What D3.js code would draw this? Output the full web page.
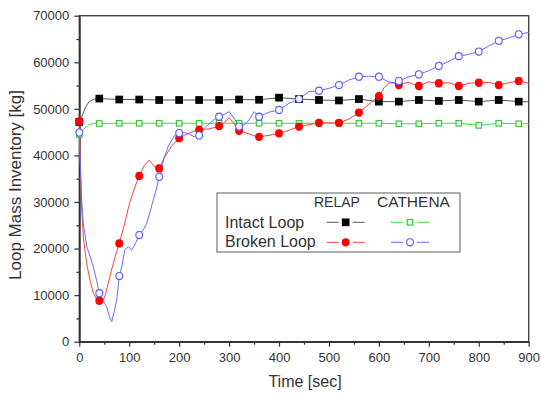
<!DOCTYPE html>
<html>
<head>
<meta charset="utf-8">
<script src="https://cdn.jsdelivr.net/npm/d3@7"></script>
<style>
  html, body { margin: 0; padding: 0; background: #fff; }
  svg { display: block; }
  text { font-family: "Liberation Sans", Arial, sans-serif; fill: #333; }
</style>
</head>
<body>
<svg id="chart" width="541" height="397"></svg>
<script>
// Loop mass inventory vs time, RELAP and CATHENA predictions
const xTicks = [0, 100, 200, 300, 400, 500, 600, 700, 800, 900];
const yTicks = [0, 10000, 20000, 30000, 40000, 50000, 60000, 70000];

// RELAP, intact loop
const relapIntactT = [0, 5, 10, 15, 20, 30, 40, 80, 120, 160, 200, 240, 280, 320, 360, 400, 440, 480, 520, 560, 600, 640, 680, 720, 760, 800, 840, 880, 900];
const relapIntactV = [47200, 48300, 49700, 50800, 51600, 52100, 52200, 52000, 52000, 51900, 51900, 51900, 51900, 52000, 51950, 52400, 52100, 51900, 51800, 52100, 51550, 51550, 51900, 51700, 51900, 51550, 51900, 51550, 51500];

// CATHENA, intact loop
const cathIntactT = [0, 10, 20, 30, 40, 80, 120, 160, 200, 240, 280, 320, 360, 400, 440, 480, 520, 560, 600, 640, 680, 720, 760, 800, 840, 880, 900];
const cathIntactV = [44500, 45800, 46600, 46900, 46850, 46900, 46900, 46900, 46900, 46900, 46900, 46900, 46900, 46900, 46900, 46900, 46900, 46900, 46900, 46800, 46800, 46900, 46900, 46450, 46900, 46800, 46800];

// RELAP, broken loop
const relapBrokenT = [0, 2, 5, 8, 12, 16, 22, 28, 34, 40, 46, 52, 58, 64, 72, 80, 90, 100, 110, 120, 130, 140, 146, 152, 160, 170, 185, 200, 210, 220, 230, 240, 250, 260, 270, 280, 290, 300, 310, 320, 330, 340, 350, 360, 380, 400, 420, 440, 460, 480, 500, 520, 540, 560, 580, 600, 610, 620, 630, 640, 650, 660, 670, 680, 690, 700, 710, 720, 740, 760, 780, 800, 820, 840, 860, 880, 900];
const relapBrokenV = [47300, 38000, 28000, 22500, 19000, 16100, 13000, 10400, 9300, 8800, 8600, 10000, 12500, 15200, 18300, 21100, 25000, 29500, 32800, 35600, 37800, 39000, 38200, 37400, 37200, 39500, 42000, 43700, 44300, 44800, 45200, 45500, 45600, 45700, 46000, 46300, 47000, 48100, 46800, 45300, 45000, 44600, 44200, 44000, 44300, 44750, 45400, 46200, 46600, 47000, 47000, 47000, 47800, 49200, 51000, 52700, 54500, 55600, 55500, 55100, 55500, 55700, 55200, 54900, 55400, 55800, 55600, 55500, 55600, 54900, 55500, 55600, 55700, 55100, 55600, 56000, 55500];

// CATHENA, broken loop
const cathBrokenT = [0, 2, 5, 8, 15, 22, 28, 35, 40, 48, 55, 60, 65, 70, 75, 80, 86, 91, 98, 105, 112, 120, 128, 135, 142, 148, 155, 160, 170, 178, 190, 200, 210, 220, 230, 240, 250, 260, 270, 280, 290, 300, 310, 320, 330, 340, 350, 360, 370, 380, 400, 420, 440, 460, 480, 500, 520, 540, 560, 580, 600, 610, 620, 630, 640, 660, 680, 700, 720, 740, 760, 780, 800, 820, 840, 860, 880, 900];
const cathBrokenV = [44900, 38000, 30000, 25400, 20400, 18200, 16100, 13000, 10400, 8800, 7500, 5500, 4300, 6500, 9000, 14100, 16500, 19700, 20400, 19700, 21000, 22900, 24000, 25400, 28000, 30400, 33000, 35400, 39500, 41900, 44200, 44800, 44900, 44600, 44000, 44300, 45800, 46800, 47700, 48300, 48800, 49400, 48000, 46200, 46600, 47600, 49400, 48300, 48800, 49300, 49750, 51200, 52100, 53700, 53900, 54400, 55100, 56200, 56900, 57000, 56900, 56300, 55800, 55600, 56000, 56900, 57400, 58200, 59200, 60200, 61300, 61700, 62300, 63500, 64600, 65200, 66000, 66400];

const legendRows = ["Intact Loop", "Broken Loop"];
const legendCols = ["RELAP", "CATHENA"];

const plot = { left: 79.3, top: 15.7, right: 528.7, bottom: 341.7 };
const markerEvery = 40;

const svg = d3.select("#chart");
const x = d3.scaleLinear().domain([0, 900]).range([plot.left, plot.right]);
const y = d3.scaleLinear().domain([0, 70000]).range([plot.bottom, plot.top]);

const series = [
  { t: relapIntactT, v: relapIntactV, line: "#555", mark: "square", fill: "#000", stroke: "#000" },
  { t: cathIntactT, v: cathIntactV, line: "#3ddc3d", mark: "square", fill: "#fff", stroke: "#33cc33" },
  { t: relapBrokenT, v: relapBrokenV, line: "#ff4040", mark: "circle", fill: "#ff0000", stroke: "#ff0000" },
  { t: cathBrokenT, v: cathBrokenV, line: "#6a6aff", mark: "circle", fill: "#fff", stroke: "#5a5aff" }
];

// Frame around the plot area
svg.append("rect")
  .attr("x", plot.left).attr("y", plot.top)
  .attr("width", plot.right - plot.left).attr("height", plot.bottom - plot.top)
  .attr("fill", "none").attr("stroke", "#444").attr("stroke-width", 1.4);

// Axes: major ticks with labels, minor ticks between
const xAxis = svg.append("g").attr("transform", `translate(0,${plot.bottom})`)
  .call(d3.axisBottom(x).tickValues(xTicks).tickSize(5).tickSizeOuter(0).tickPadding(6).tickFormat(d3.format("d")));
svg.append("g").attr("transform", `translate(0,${plot.bottom})`)
  .call(d3.axisBottom(x).tickValues(d3.range(50, 900, 100)).tickSize(3).tickSizeOuter(0).tickFormat(""));

const yAxis = svg.append("g").attr("transform", `translate(${plot.left},0)`)
  .call(d3.axisLeft(y).tickValues(yTicks).tickSize(5).tickSizeOuter(0).tickPadding(5).tickFormat(d3.format("d")));
svg.append("g").attr("transform", `translate(${plot.left},0)`)
  .call(d3.axisLeft(y).tickValues(d3.range(5000, 70000, 10000)).tickSize(3).tickSizeOuter(0).tickFormat(""));

svg.selectAll(".domain").attr("stroke", "#333").attr("stroke-width", 1.4);
svg.selectAll(".tick line").attr("stroke", "#333").attr("stroke-width", 1.2);
svg.selectAll(".tick text").attr("font-size", 13).attr("fill", "#333")
  .attr("font-family", "'Liberation Sans', Arial, sans-serif");

// Axis titles
svg.append("text").attr("x", 305).attr("y", 387).attr("text-anchor", "middle")
  .attr("font-size", 16).text("Time [sec]");
svg.append("text").attr("transform", "translate(21,185) rotate(-90)").attr("text-anchor", "middle")
  .attr("font-size", 17).text("Loop Mass Inventory [kg]");

// Marker drawing helper
function drawMarker(g, s, cx, cy) {
  if (s.mark === "square") {
    const size = s.fill === "#000" ? 6.5 : 5.5;
    g.append("rect").attr("x", cx - size / 2).attr("y", cy - size / 2)
      .attr("width", size).attr("height", size)
      .attr("fill", s.fill).attr("stroke", s.stroke).attr("stroke-width", 1.2);
  } else {
    g.append("ellipse").attr("cx", cx).attr("cy", cy)
      .attr("rx", 3.4).attr("ry", 3.6)
      .attr("fill", s.fill).attr("stroke", s.stroke).attr("stroke-width", 1.1);
  }
}

const line = d3.line().x(d => x(d[0])).y(d => y(d[1]));
const curves = svg.append("g");
series.forEach(s => {
  const pts = s.t.map((t, i) => [t, s.v[i]]);
  curves.append("path").datum(pts).attr("d", line)
    .attr("fill", "none").attr("stroke", s.line).attr("stroke-width", 1);
});
series.forEach(s => {
  const g = svg.append("g");
  s.t.forEach((t, i) => {
    if (t % markerEvery === 0 && t < 900) drawMarker(g, s, x(t), y(s.v[i]));
  });
});

// Legend
const lg = svg.append("g");
lg.append("rect").attr("x", 217).attr("y", 193).attr("width", 243).attr("height", 59)
  .attr("fill", "#fff").attr("stroke", "#777").attr("stroke-width", 1.2);
lg.append("text").attr("x", 314).attr("y", 207).attr("font-size", 14).text(legendCols[0]);
lg.append("text").attr("x", 377).attr("y", 207).attr("font-size", 15.5).text(legendCols[1]);
legendRows.forEach((r, i) => {
  const yy = 228 + i * 19;
  lg.append("text").attr("x", 225).attr("y", yy).attr("font-size", 16).text(r);
});
const legendCells = [
  { s: series[0], cx: 345.7, cy: 222.3 },
  { s: series[1], cx: 410, cy: 222.3 },
  { s: series[2], cx: 345.7, cy: 242.3 },
  { s: series[3], cx: 410, cy: 242.3 }
];
legendCells.forEach(c => {
  [[-19, -7], [7, 19]].forEach(([a, b]) => {
    lg.append("line").attr("x1", c.cx + a).attr("x2", c.cx + b)
      .attr("y1", c.cy).attr("y2", c.cy)
      .attr("stroke", c.s.line).attr("stroke-width", 1);
  });
  drawMarker(lg, c.s, c.cx, c.cy);
});
</script>
</body>
</html>
